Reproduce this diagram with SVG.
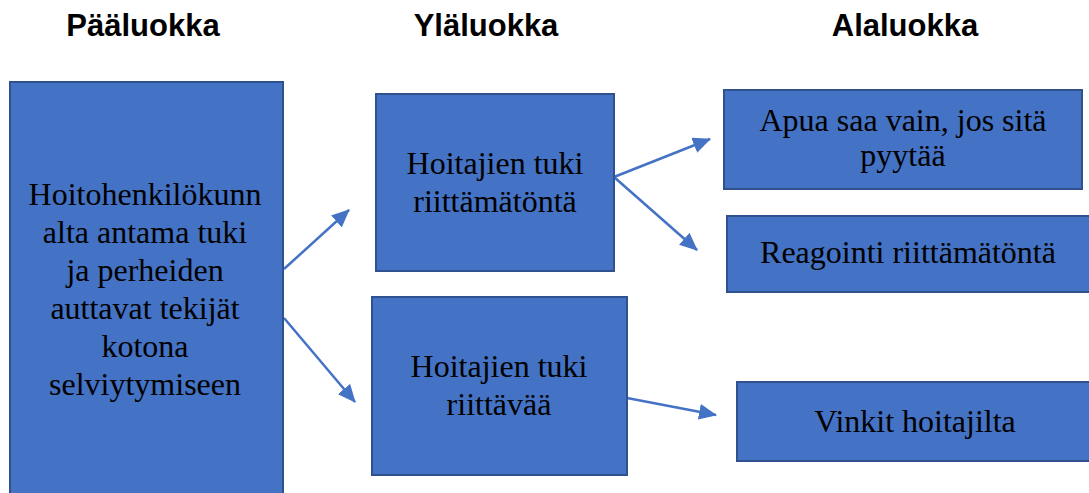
<svg xmlns="http://www.w3.org/2000/svg" width="1089" height="493" viewBox="0 0 1089 493">
<defs>
<style>
.box{fill:#4472C4;stroke:#2F528F;stroke-width:2}
.t{font-family:"Liberation Serif","Times New Roman",serif;font-size:32px;fill:#000;text-anchor:middle}
.h{font-family:"Liberation Sans",Arial,sans-serif;font-size:31px;font-weight:bold;fill:#000;text-anchor:middle}
.c{stroke:#4472C4;stroke-width:2.5;fill:none;marker-end:url(#ah)}
</style>
<marker id="ah" markerUnits="userSpaceOnUse" markerWidth="18" markerHeight="16" viewBox="0 0 18 16" refX="17" refY="8" orient="auto">
<path d="M0,0 L18,8 L0,16 Z" fill="#4472C4"/>
</marker>
</defs>
<rect width="1089" height="493" fill="#fff"/>
<g id="headers">
<text class="h" x="143" y="36">Pääluokka</text>
<text class="h" x="486" y="36">Yläluokka</text>
<text class="h" x="905" y="36">Alaluokka</text>
</g>
<g id="connectors">
<line class="c" x1="284" y1="269" x2="349" y2="210"/>
<line class="c" x1="284" y1="318" x2="355" y2="402"/>
<line class="c" x1="614" y1="177" x2="710" y2="139"/>
<line class="c" x1="614" y1="177" x2="697" y2="250"/>
<line class="c" x1="627" y1="398" x2="716" y2="415"/>
</g>
<g id="main">
<rect class="box" x="10" y="82" width="273" height="420"/>
<text class="t" x="145" y="205">Hoitohenkilökunn</text>
<text class="t" x="145" y="243">alta antama tuki</text>
<text class="t" x="145" y="281">ja perheiden</text>
<text class="t" x="145" y="319">auttavat tekijät</text>
<text class="t" x="145" y="357">kotona</text>
<text class="t" x="145" y="395">selviytymiseen</text>
</g>
<g id="upper1">
<rect class="box" x="376" y="94" width="238" height="177"/>
<text class="t" x="495" y="174">Hoitajien tuki</text>
<text class="t" x="495" y="212">riittämätöntä</text>
</g>
<g id="upper2">
<rect class="box" x="372" y="297" width="255" height="178"/>
<text class="t" x="499" y="377">Hoitajien tuki</text>
<text class="t" x="499" y="415">riittävää</text>
</g>
<g id="sub1">
<rect class="box" x="724" y="90" width="358" height="99"/>
<text class="t" x="903" y="131">Apua saa vain, jos sitä</text>
<text class="t" x="903" y="166">pyytää</text>
</g>
<g id="sub2">
<rect class="box" x="727" y="216" width="372" height="76"/>
<text class="t" x="908" y="263">Reagointi riittämätöntä</text>
</g>
<g id="sub3">
<rect class="box" x="737" y="382" width="362" height="79"/>
<text class="t" x="915" y="432">Vinkit hoitajilta</text>
</g>
</svg>
